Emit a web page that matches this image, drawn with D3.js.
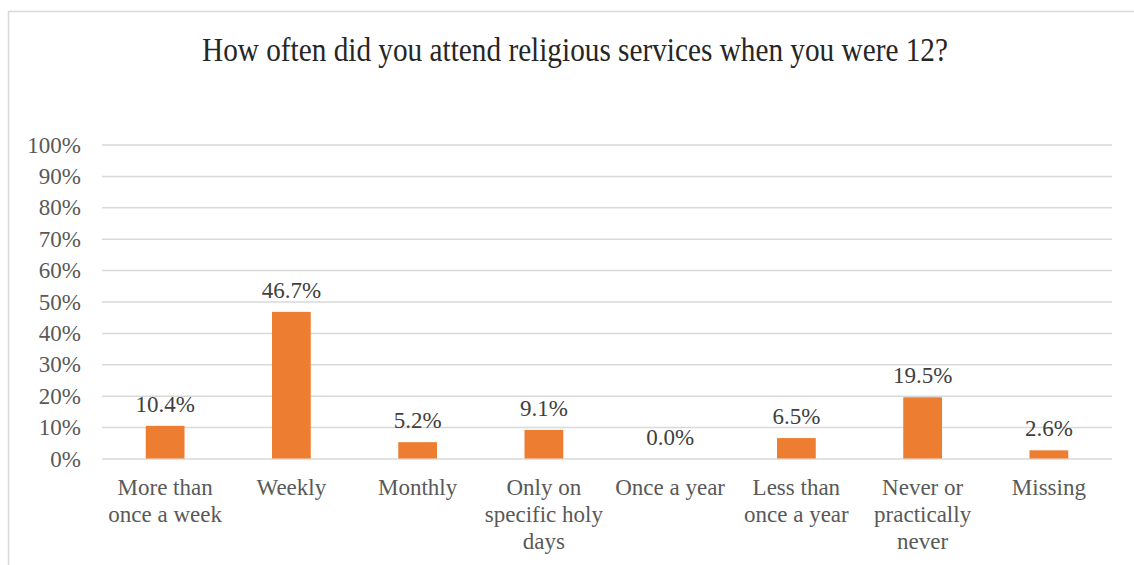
<!DOCTYPE html>
<html>
<head>
<meta charset="utf-8">
<script src="https://cdn.jsdelivr.net/npm/d3@7"></script>
<style>
  html, body { margin: 0; padding: 0; background: #fff; }
  svg { display: block; }
  text { font-family: "Liberation Serif", "Times New Roman", serif; }
</style>
</head>
<body>
<svg id="chart" width="1134" height="565"></svg>
<script>
// Attendance at religious services at age 12 (share of respondents)
const categories = [
  "More than once a week",
  "Weekly",
  "Monthly",
  "Only on specific holy days",
  "Once a year",
  "Less than once a year",
  "Never or practically never",
  "Missing"
];
const categoryLines = [
  ["More than", "once a week"],
  ["Weekly"],
  ["Monthly"],
  ["Only on", "specific holy", "days"],
  ["Once a year"],
  ["Less than", "once a year"],
  ["Never or", "practically", "never"],
  ["Missing"]
];
const shares = [10.4, 46.7, 5.2, 9.1, 0.0, 6.5, 19.5, 2.6];
const yTicks = [0, 10, 20, 30, 40, 50, 60, 70, 80, 90, 100];
const title = "How often did you attend religious services when you were 12?";

const svg = d3.select("#chart");
const margin = { left: 102, right: 1112, top: 144.5, bottom: 458.5 };
const labelSize = 23;

// Outer chart frame
svg.append("rect")
  .attr("x", 8.5).attr("y", 11.5)
  .attr("width", 1300).attr("height", 800)
  .attr("fill", "#fff")
  .attr("stroke", "#d9d9d9").attr("stroke-width", 1.5);

// Title
svg.append("text")
  .attr("x", 575).attr("y", 61)
  .attr("text-anchor", "middle")
  .attr("font-size", 34)
  .attr("fill", "#262626")
  .attr("textLength", 746)
  .attr("lengthAdjust", "spacingAndGlyphs")
  .text(title);

const x = d3.scaleBand()
  .domain(categories)
  .range([margin.left, margin.right])
  .padding(0);

const y = d3.scaleLinear()
  .domain([0, 100])
  .range([margin.bottom, margin.top]);

// Horizontal gridlines and percentage labels
const yAxis = d3.axisLeft(y)
  .tickValues(yTicks)
  .tickSize(-(margin.right - margin.left))
  .tickPadding(21)
  .tickFormat(d => d + "%");

const yg = svg.append("g")
  .attr("transform", `translate(${margin.left},0)`)
  .call(yAxis);
yg.select(".domain").remove();
yg.selectAll(".tick line")
  .attr("stroke", "#d9d9d9")
  .attr("stroke-width", 1.5);
yg.selectAll(".tick text")
  .attr("font-family", "Liberation Serif, serif")
  .attr("font-size", labelSize)
  .attr("fill", "#595959")
  .attr("dy", "0.33em");

// Bars
const barW = x.bandwidth() * 0.307;
svg.append("g").selectAll("rect")
  .data(categories)
  .join("rect")
  .attr("x", (d) => x(d) + (x.bandwidth() - barW) / 2)
  .attr("y", (d, i) => y(shares[i]))
  .attr("width", barW)
  .attr("height", (d, i) => y(0) - y(shares[i]))
  .attr("fill", "#ed7d31");

// Value labels above bars
svg.append("g").selectAll("text")
  .data(categories)
  .join("text")
  .attr("x", (d) => x(d) + x.bandwidth() / 2)
  .attr("y", (d, i) => y(shares[i]) - 14)
  .attr("text-anchor", "middle")
  .attr("font-size", labelSize)
  .attr("fill", "#404040")
  .text((d, i) => shares[i].toFixed(1) + "%");

// Category labels, wrapped onto several lines
const xg = svg.append("g");
categories.forEach((c, i) => {
  const t = xg.append("text")
    .attr("x", x(c) + x.bandwidth() / 2)
    .attr("y", 495)
    .attr("text-anchor", "middle")
    .attr("font-size", labelSize)
    .attr("fill", "#595959");
  categoryLines[i].forEach((line, j) => {
    t.append("tspan")
      .attr("x", x(c) + x.bandwidth() / 2)
      .attr("y", 495 + j * 27)
      .text(line);
  });
});
</script>
</body>
</html>
